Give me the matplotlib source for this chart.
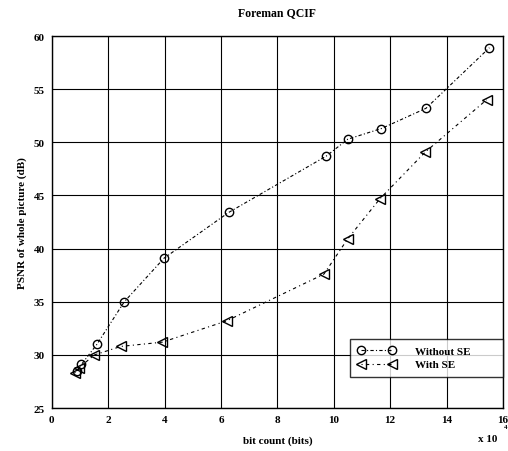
import matplotlib
matplotlib.use("Agg")
import matplotlib.pyplot as plt

# Data (bit count in units of 10^4)
x_without = [0.89, 1.05, 1.6, 2.57, 3.98, 6.27, 9.73, 10.5, 11.69, 13.27, 15.52]
y_without = [28.5, 29.1, 31.0, 35.0, 39.1, 43.4, 48.7, 50.3, 51.3, 53.2, 58.9]
x_with = [0.81, 0.97, 1.51, 2.45, 3.92, 6.2, 9.65, 10.49, 11.64, 13.25, 15.42]
y_with = [28.3, 28.8, 30.0, 30.8, 31.2, 33.2, 37.6, 40.9, 44.7, 49.1, 54.0]

xticks = [0, 2, 4, 6, 8, 10, 12, 14, 16]
yticks = [25, 30, 35, 40, 45, 50, 55, 60]

plt.rcParams['font.family'] = ['Liberation Serif', 'DejaVu Serif']
plt.rcParams['font.weight'] = 'bold'

fig = plt.figure(figsize=(5.08, 4.52), dpi=100)
ax = fig.add_axes([0.102, 0.095, 0.888, 0.823])

ax.plot(x_without, y_without, color='black', linestyle=(0, (3, 2, 1, 2)), linewidth=0.8,
        marker='o', markersize=6, markerfacecolor='none', markeredgecolor='black',
        markeredgewidth=1.0, label='Without SE')
ax.plot(x_with, y_with, color='black', linestyle=(0, (1, 3, 3, 3)), linewidth=0.8,
        marker='<', markersize=7, markerfacecolor='none', markeredgecolor='black',
        markeredgewidth=1.0, label='With SE')

ax.set_xlim(0, 16)
ax.set_ylim(25, 60)
ax.set_xticks(xticks)
ax.set_yticks(yticks)
ax.tick_params(direction='in', length=0, labelsize=8, pad=5)
for lbl in ax.get_xticklabels() + ax.get_yticklabels():
    lbl.set_fontweight('bold')
ax.grid(True, color='black', linestyle='-', linewidth=0.8)
for sp in ax.spines.values():
    sp.set_linewidth(1.0)
    sp.set_color('black')

ax.set_title('Foreman QCIF', fontsize=8.5, fontweight='bold', pad=15)
ax.set_xlabel('bit count (bits)', fontsize=8, fontweight='bold', labelpad=8)
ax.set_ylabel('PSNR of whole picture (dB)', fontsize=8, fontweight='bold', labelpad=5)

fig.text(0.94, 0.018, 'x 10', fontsize=8, fontweight='bold', ha='left', va='bottom')
fig.text(0.992, 0.048, '4', fontsize=5, fontweight='bold', ha='left', va='bottom')

x0 = (350 - 52) / 451.0
w = (503 - 350) / 451.0
leg = ax.legend(loc='lower left', bbox_to_anchor=(x0, 0.083, w, 0.0), mode='expand',
                numpoints=2, handlelength=3.4, fontsize=8, frameon=True, fancybox=False,
                edgecolor='black', borderpad=0.7, handletextpad=1.8, borderaxespad=0.0,
                labelspacing=0.3)
leg.get_frame().set_linewidth(1.0)
for t in leg.get_texts():
    t.set_fontweight('bold')

fig.savefig('out.png', dpi=100, facecolor='white')
